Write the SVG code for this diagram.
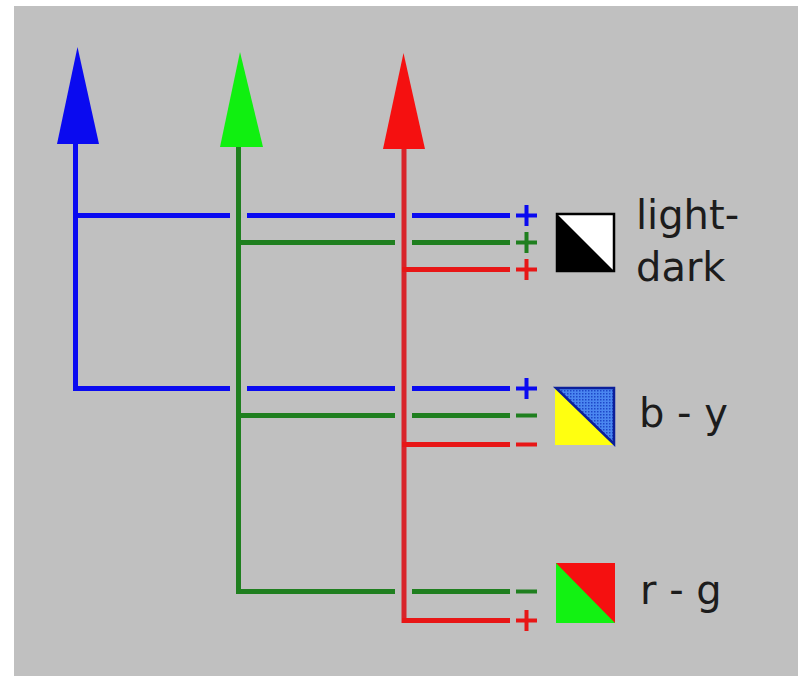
<svg xmlns="http://www.w3.org/2000/svg" width="798" height="676" viewBox="0 0 798 676">
<defs>
<style>
.lbl{font-family:"DejaVu Sans","Liberation Sans",sans-serif;font-size:40px;fill:#1c1c1c}
.b{stroke:#0a0af0;stroke-width:5;fill:none}
.g{stroke:#1f7f1f;stroke-width:5;fill:none}
.r{stroke:#e81616;stroke-width:5;fill:none}
.rv{stroke:#d8242a;stroke-width:5;fill:none}
.sign{stroke-width:4;fill:none}
</style>
<pattern id="dots" width="3" height="3" patternUnits="userSpaceOnUse">
<rect width="3" height="3" fill="#4a86f0"/>
<rect width="1.5" height="1.5" fill="#1d48c8"/>
</pattern>
</defs>
<rect x="0" y="0" width="798" height="676" fill="#ffffff"/>
<rect x="14" y="6" width="784" height="670" fill="#c0c0c0"/>

<g id="connectors">
<!-- verticals -->
<line class="b" x1="75.5" y1="143" x2="75.5" y2="390.5"/>
<line class="g" x1="238.5" y1="146" x2="238.5" y2="593.5"/>
<line class="rv" x1="404" y1="148" x2="404" y2="623"/>
<!-- light-dark -->
<path class="b" d="M73 215.5 H230 M247 215.5 H395 M412 215.5 H510"/>
<path class="b sign" d="M516 215.5 H537 M526.5 205 V226"/>
<path class="g" d="M236 242.5 H395 M412 242.5 H510"/>
<path class="g sign" d="M516 242.5 H537 M526.5 232 V253"/>
<path class="r" d="M402 269.5 H510"/>
<path class="r sign" d="M516 269.5 H537 M526.5 259 V280"/>
<!-- b-y -->
<path class="b" d="M73 388.5 H230 M247 388.5 H395 M412 388.5 H510"/>
<path class="b sign" d="M516 388.5 H537 M526.5 378 V399"/>
<path class="g" d="M236 415.5 H395 M412 415.5 H510"/>
<path class="g sign" d="M516 415.5 H537"/>
<path class="r" d="M402 444.5 H510"/>
<path class="r sign" d="M516 444.5 H537"/>
<!-- r-g -->
<path class="g" d="M236 591.5 H395 M412 591.5 H510"/>
<path class="g sign" d="M516 591.5 H537"/>
<path class="r" d="M402 620.5 H510"/>
<path class="r sign" d="M516 620.5 H537 M526.5 610 V631"/>
</g>

<g id="blue-channel">
<polygon points="77.5,47 57,144 99,144" fill="#0a0af0"/>
</g>
<g id="green-channel">
<polygon points="240,52 220,147 263,147" fill="#10f010"/>
</g>
<g id="red-channel">
<polygon points="403.5,53 383,149 425,149" fill="#f51010"/>
</g>

<g id="light-dark">
<rect x="557" y="214" width="57" height="57" fill="#ffffff" stroke="#000" stroke-width="2.5"/>
<polygon points="557,214 614,271 557,271" fill="#000"/>
<text class="lbl" x="636" y="229">light-</text>
<text class="lbl" x="636" y="281">dark</text>
</g>

<g id="b-y">
<polygon points="555,387 615,387 615,445 555,445" fill="#ffff10"/>
<polygon points="556,388 614,388 614,444" fill="url(#dots)" stroke="#0b1f9a" stroke-width="2.5" stroke-linejoin="miter"/>
<text class="lbl" x="639" y="427">b - y</text>
</g>

<g id="r-g">
<polygon points="556,563 615,563 615,623 556,623" fill="#12f212"/>
<polygon points="556,563 615,563 615,623" fill="#f51010"/>
<text class="lbl" x="640" y="604">r - g</text>
</g>
</svg>
